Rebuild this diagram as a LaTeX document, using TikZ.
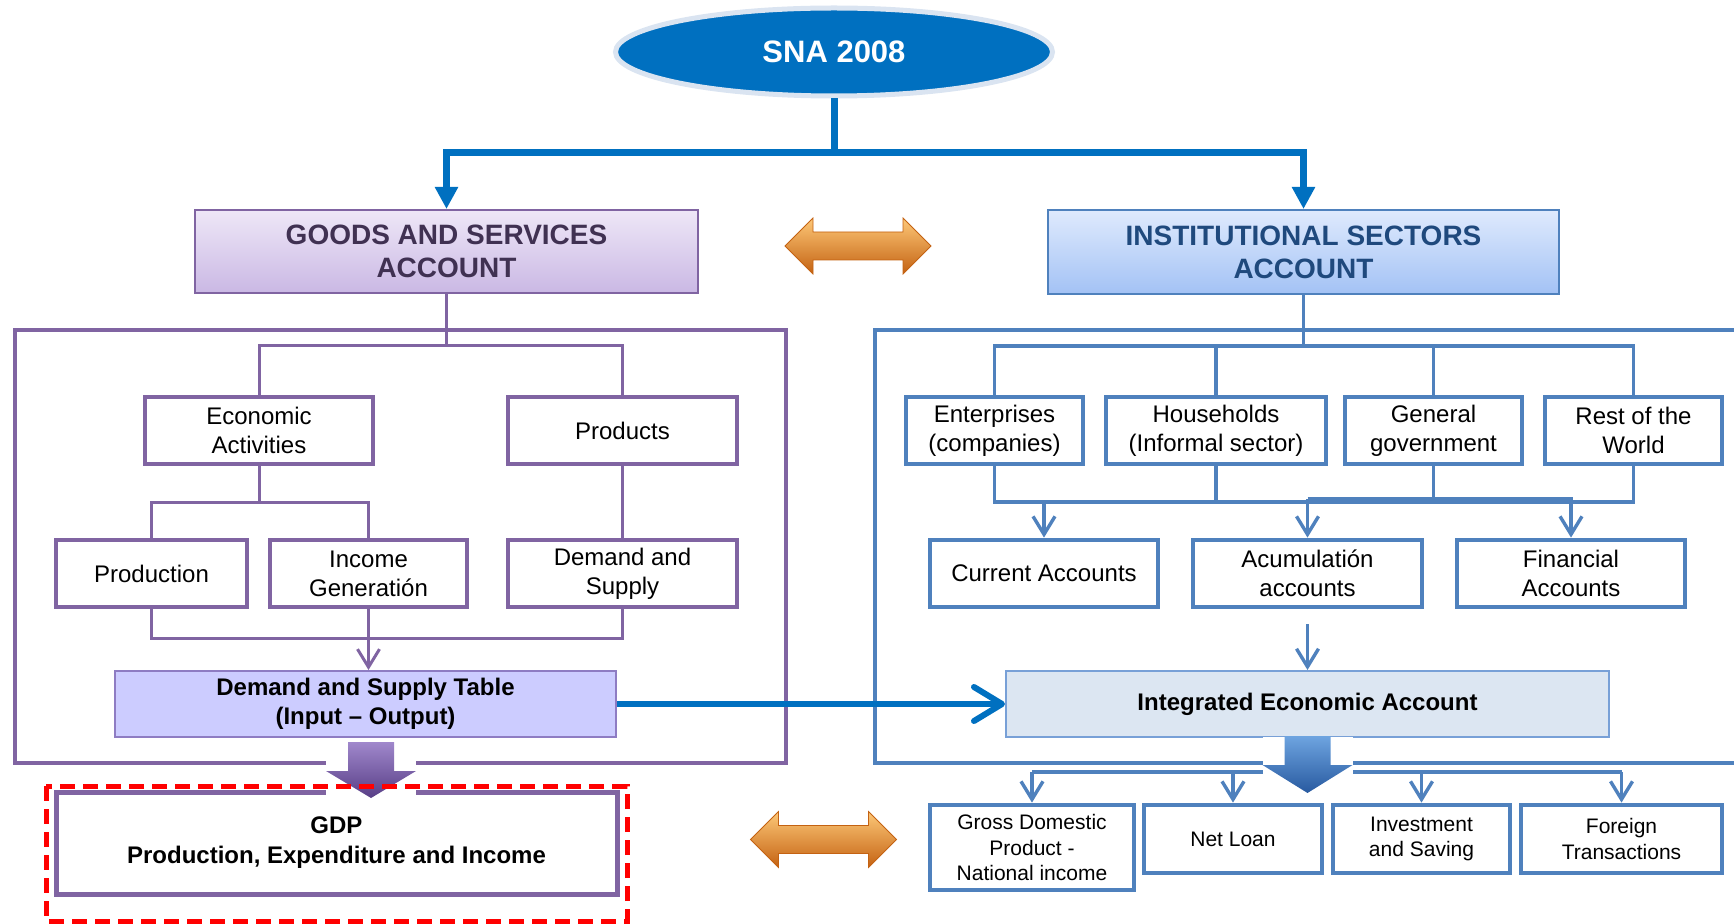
\documentclass[tikz,border=0pt]{standalone}
\usepackage{fontspec}
\setmainfont{Liberation Sans}
\usetikzlibrary{shapes.geometric, arrows.meta}

\definecolor{snablue}{RGB}{0,112,192}
\definecolor{snaring}{RGB}{218,228,241}
\definecolor{gspurple}{RGB}{128,100,162}
\definecolor{gstext}{RGB}{64,49,82}
\definecolor{gstop}{RGB}{238,231,247}
\definecolor{gsbot}{RGB}{202,184,228}
\definecolor{isblue}{RGB}{79,129,189}
\definecolor{istext}{RGB}{31,73,125}
\definecolor{istop}{RGB}{223,234,253}
\definecolor{isbot}{RGB}{163,194,245}
\definecolor{tablefill}{RGB}{204,204,255}
\definecolor{tableedge}{RGB}{142,124,195}
\definecolor{ieafill}{RGB}{220,230,242}
\definecolor{ieaedge}{RGB}{120,160,215}
\definecolor{orhi}{RGB}{253,200,120}
\definecolor{ormid}{RGB}{248,152,56}
\definecolor{orlo}{RGB}{196,98,18}
\definecolor{vihi}{RGB}{160,136,204}
\definecolor{vilo}{RGB}{88,62,134}
\definecolor{blhi}{RGB}{110,164,224}
\definecolor{bllo}{RGB}{40,90,160}

\tikzset{
	sbox/.style = {draw = isblue, line width = 2.4pt, fill = white, align = center, inner sep = 0pt, minimum height = 33.5pt, font = \fontsize{12}{14.4}\selectfont},
	pbox/.style = {sbox, draw = gspurple},
	obox/.style = {sbox, minimum height = 34pt, font = \fontsize{10.5}{12.7}\selectfont},
	headbox/.style = {line width = 1pt, align = center, inner sep = 0pt, font = \fontsize{14}{16.5}\selectfont\bfseries},
	tablebox/.style = {line width = 1pt, align = center, inner sep = 0pt, minimum height = 33pt, font = \fontsize{12}{14.4}\selectfont\bfseries},
	pline/.style = {draw = gspurple, line width = 1.5pt},
	bline/.style = {draw = isblue, line width = 1.7pt},
	pframe/.style = {draw = gspurple, line width = 1.7pt},
	bframe/.style = {draw = isblue, line width = 1.6pt},
	topline/.style = {draw = snablue, line width = 3.5pt},
	vtip/.style = {-{Straight Barb[length = 9pt, width = 11pt]}},
	tri/.style = {-{Triangle[length = 11pt, width = 11pt]}},
	twoway/.pic = {
		\shade[top color = orhi, middle color = ormid, bottom color = orlo, draw = orlo, line width = 0.4pt]
			(-73,0) -- (-45,-28) -- (-45,-14) -- (45,-14) -- (45,-28) -- (73,0)
			-- (45,28) -- (45,14) -- (-45,14) -- (-45,28) -- cycle;
	},
	violetdrop/.pic = {
		\shade[top color = vihi, bottom color = vilo]
			(-23,0) -- (23,0) -- (23,29) -- (45,29) -- (0,56) -- (-45,29) -- (-23,29) -- cycle;
	},
	bluedrop/.pic = {
		\shade[top color = blhi, bottom color = bllo]
			(-23,0) -- (23,0) -- (23,29) -- (45,29) -- (0,57) -- (-45,29) -- (-23,29) -- cycle;
	}
}

\begin{document}
\begin{tikzpicture}[x = 0.5pt, y = -0.5pt]
	\useasboundingbox (0,0) rectangle (1734,924);

	\draw[pframe] (15,330) rectangle (786,763);
	\draw[bframe] (1740,330) -- (875,330) -- (875,763) -- (1740,763);

	\node[ellipse, draw = snaring, line width = 2.5pt, fill = snablue, text = white, inner sep = 0pt, minimum width = 218.5pt, minimum height = 44pt, font = \fontsize{15.5}{18}\selectfont\bfseries] (sna) at (834,52) {SNA 2008};

	\node[headbox, draw = gspurple, top color = gstop, bottom color = gsbot, text = gstext, minimum width = 251.5pt, minimum height = 41.5pt] (goods) at (446.5,251.5) {GOODS AND SERVICES\\ACCOUNT};
	\node[headbox, draw = isblue, top color = istop, bottom color = isbot, text = istext, minimum width = 255.5pt, minimum height = 42pt] (inst) at (1303.5,252) {INSTITUTIONAL SECTORS\\ACCOUNT};

	\node[pbox, minimum width = 114pt] (ecact) at (259,430.5) {Economic\\Activities};
	\node[pbox, minimum width = 114.5pt] (products) at (622.5,430.5) {Products};
	\node[pbox, minimum width = 95.5pt] (prod) at (151.5,573.5) {Production};
	\node[pbox, minimum width = 98.5pt] (income) at (368.5,573.5) {Income\\Generatión};
	\node[pbox, minimum width = 114.5pt] (dsupply) at (622.5,573.5) {Demand and\\Supply};
	\node[tablebox, draw = tableedge, fill = tablefill, minimum width = 250.5pt] (dst) at (365.5,704) {Demand and Supply Table\\(Input -- Output)};
	\node[pbox, line width = 2.5pt, minimum width = 280.5pt, minimum height = 51pt, font = \fontsize{12}{15}\selectfont\bfseries] (gdp) at (336.5,843) {GDP\\Production, Expenditure and Income};

	\node[sbox, minimum width = 88.5pt] (ent) at (994.5,430.5) {Enterprises\\(companies)};
	\node[sbox, minimum width = 110pt] (hh) at (1216,430.5) {Households\\(Informal sector)};
	\node[sbox, minimum width = 88.5pt] (gov) at (1433.5,430.5) {General\\government};
	\node[sbox, minimum width = 88.5pt] (row) at (1633.5,430.5) {Rest of the\\World};
	\node[sbox, minimum width = 114pt] (cur) at (1044,573.5) {Current Accounts};
	\node[sbox, minimum width = 114.5pt] (acum) at (1307.5,573.5) {Acumulatión\\accounts};
	\node[sbox, minimum width = 114pt] (fin) at (1571,573.5) {Financial\\Accounts};
	\node[tablebox, draw = ieaedge, fill = ieafill, minimum width = 301.5pt] (iea) at (1307.5,704) {Integrated Economic Account};
	\node[obox, minimum width = 102pt, minimum height = 42.5pt] (gross) at (1032,847.5) {Gross Domestic\\Product -\\National income};
	\node[obox, minimum width = 89pt] (netloan) at (1233,839) {Net Loan};
	\node[obox, minimum width = 88.5pt] (invest) at (1421.5,839) {Investment\\and Saving};
	\node[obox, minimum width = 100.5pt] (foreign) at (1621.5,839) {Foreign\\Transactions};

	\coordinate (topbus) at (834,153);
	\coordinate (gsbus) at (446.5,346);
	\coordinate (eabus) at (259,503);
	\coordinate (lowbus) at (368.5,638);
	\coordinate (isbus) at (1303.5,346);
	\coordinate (secbus) at (1216,502);
	\coordinate (accbus) at (1307.5,499);
	\coordinate (outbus) at (1307.5,772);

	\draw[topline] (sna.south) -- (topbus);
	\draw[topline, tri] (topbus) -| (goods.north);
	\draw[topline, tri] (topbus) -| (inst.north);

	\draw[pline] (goods.south) -- (gsbus);
	\draw[pline] (ecact.north) |- (gsbus) -| (products.north);
	\draw[pline] (ecact.south) -- (eabus);
	\draw[pline] (prod.north) |- (eabus) -| (income.north);
	\draw[pline] (products) -- (dsupply);
	\draw[pline] (prod.south) |- (lowbus) -| (dsupply.south);
	\draw[pline] (income.south) -- (lowbus);
	\draw[pline, vtip] (lowbus) -- (lowbus |- dst.north);

	\draw[bline] (inst.south) -- (isbus);
	\draw[bline] (ent.north) |- (isbus) -| (row.north);
	\draw[bline] (hh.north) -- (hh.north |- isbus);
	\draw[bline] (gov.north) -- (gov.north |- isbus);
	\draw[bline] (ent.south) |- (secbus) -| (row.south);
	\draw[bline] (hh.south) -- (secbus);
	\draw[bline] (gov.south) -- (gov.south |- accbus);
	\draw[bline, vtip] (cur.north |- secbus) -- (cur.north);
	\draw[bline, vtip] (accbus) -- (acum.north);
	\draw[bline, vtip] (accbus) -| (fin.north);
	\draw[bline, vtip] (acum.south) ++(0,15) -- (iea.north);

	\draw[snablue, line width = 3pt, -{Straight Barb[length = 14pt, width = 17pt, round]}] (dst.east) -- (iea.west);

	\draw[bline] (gross.north |- outbus) -- (foreign.north |- outbus);
	\draw[bline, vtip] (gross.north |- outbus) -- (gross.north);
	\draw[bline, vtip] (netloan.north |- outbus) -- (netloan.north);
	\draw[bline, vtip] (invest.north |- outbus) -- (invest.north);
	\draw[bline, vtip] (foreign.north |- outbus) -- (foreign.north);

	\pic at (858,246) {twoway};
	\pic at (823.5,839.5) {twoway};

	\fill[white] (326,745) rectangle (416,799);
	\pic at (371,742) {violetdrop};
	\fill[white] (1263,737) rectangle (1353,777);
	\pic at (1307.5,736) {bluedrop};

	\draw[red, line width = 2.5pt, dash pattern = on 7.5pt off 4pt] (46,786) rectangle (627,921);
\end{tikzpicture}
\end{document}
